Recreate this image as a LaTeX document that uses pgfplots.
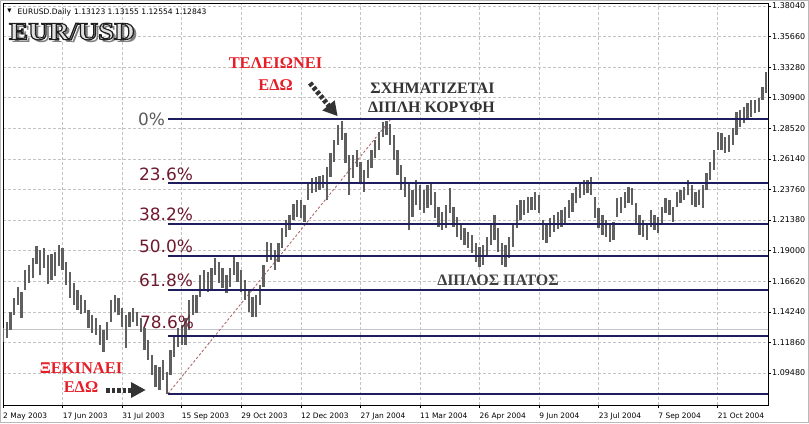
\documentclass[border=0pt]{standalone}
\usepackage{pgfplots}
\pgfplotsset{compat=1.18}
\usepackage{pgfplotstable}
\usepackage{fontspec}
\setmainfont{DejaVu Sans}
\newfontfamily\grserif{Liberation Serif}

\definecolor{barcol}{RGB}{95,95,95}
\definecolor{fibcol}{RGB}{30,30,95}
\definecolor{pctcol}{RGB}{110,25,45}
\definecolor{redtxt}{RGB}{230,30,40}
\definecolor{gridcol}{RGB}{195,195,195}
\definecolor{diagcol}{RGB}{175,105,105}

% EUR/USD, one bar per two trading days: day index, low, high
\pgfplotstableread{
d lo hi
0 1.1190 1.1299
2 1.1221 1.1346
4 1.1284 1.1424
6 1.1400 1.1533
8 1.1478 1.1618
10 1.1377 1.1579
12 1.1595 1.1750
14 1.1649 1.1789
16 1.1688 1.1844
18 1.1797 1.1937
20 1.1711 1.1906
22 1.1766 1.1922
24 1.1641 1.1867
26 1.1673 1.1875
28 1.1704 1.1890
30 1.1782 1.1945
32 1.1750 1.1922
34 1.1634 1.1813
36 1.1533 1.1735
38 1.1478 1.1649
40 1.1439 1.1595
42 1.1408 1.1556
44 1.1416 1.1517
46 1.1299 1.1439
48 1.1260 1.1400
50 1.1245 1.1377
52 1.1167 1.1322
54 1.1112 1.1284
56 1.1206 1.1346
58 1.1346 1.1517
60 1.1424 1.1556
62 1.1400 1.1533
64 1.1307 1.1455
66 1.1144 1.1400
68 1.1307 1.1424
70 1.1346 1.1455
72 1.1315 1.1424
74 1.1268 1.1377
76 1.1128 1.1299
78 1.1050 1.1206
80 1.0933 1.1089
82 1.0840 1.1011
84 1.0817 1.0996
86 1.0895 1.1050
88 1.0786 1.0957
90 1.0933 1.1128
92 1.1074 1.1245
94 1.1151 1.1299
96 1.1167 1.1322
98 1.1167 1.1377
100 1.1284 1.1517
102 1.1400 1.1556
104 1.1416 1.1556
106 1.1540 1.1711
108 1.1595 1.1750
110 1.1579 1.1735
112 1.1595 1.1766
114 1.1711 1.1844
116 1.1649 1.1813
118 1.1610 1.1766
120 1.1571 1.1711
122 1.1618 1.1766
124 1.1711 1.1852
126 1.1657 1.1813
128 1.1579 1.1750
130 1.1517 1.1673
132 1.1424 1.1595
134 1.1385 1.1540
136 1.1385 1.1556
138 1.1478 1.1634
140 1.1618 1.1789
142 1.1813 1.1968
144 1.1828 1.1960
146 1.1750 1.1906
148 1.1813 1.1960
150 1.1922 1.2077
152 1.2007 1.2139
154 1.2062 1.2178
156 1.2139 1.2264
158 1.2163 1.2295
160 1.2155 1.2295
162 1.2124 1.2256
164 1.2295 1.2435
166 1.2349 1.2466
168 1.2357 1.2474
170 1.2373 1.2482
172 1.2388 1.2489
174 1.2295 1.2552
176 1.2474 1.2661
178 1.2591 1.2762
180 1.2723 1.2878
182 1.2762 1.2910
184 1.2583 1.2816
186 1.2334 1.2645
188 1.2466 1.2645
190 1.2552 1.2684
192 1.2427 1.2591
194 1.2357 1.2528
196 1.2466 1.2606
198 1.2544 1.2684
200 1.2622 1.2762
202 1.2684 1.2824
204 1.2785 1.2902
206 1.2801 1.2910
208 1.2723 1.2886
210 1.2606 1.2801
212 1.2489 1.2684
214 1.2373 1.2567
216 1.2318 1.2474
218 1.2062 1.2427
220 1.2163 1.2373
222 1.2256 1.2451
224 1.2217 1.2412
226 1.2194 1.2373
228 1.2233 1.2412
230 1.2256 1.2435
232 1.2155 1.2357
234 1.2085 1.2241
236 1.2062 1.2202
238 1.2077 1.2256
240 1.2194 1.2388
242 1.2085 1.2241
244 1.2007 1.2163
246 1.1984 1.2116
248 1.1945 1.2077
250 1.1922 1.2046
252 1.1883 1.2023
254 1.1813 1.1960
256 1.1774 1.1929
258 1.1789 1.1945
260 1.1852 1.2007
262 1.1945 1.2100
264 1.1984 1.2178
266 1.1890 1.2077
268 1.1789 1.1960
270 1.1774 1.1945
272 1.1844 1.2007
274 1.1929 1.2100
276 1.2077 1.2256
278 1.2139 1.2295
280 1.2178 1.2295
282 1.2194 1.2318
284 1.2217 1.2318
286 1.2217 1.2357
288 1.2194 1.2334
290 1.1984 1.2139
292 1.1960 1.2116
294 1.2007 1.2155
296 1.2046 1.2178
298 1.2069 1.2202
300 1.2085 1.2217
302 1.2116 1.2241
304 1.2155 1.2295
306 1.2202 1.2349
308 1.2272 1.2396
310 1.2311 1.2435
312 1.2334 1.2451
314 1.2349 1.2451
316 1.2334 1.2474
318 1.2155 1.2318
320 1.2077 1.2233
322 1.2023 1.2178
324 1.2007 1.2139
326 1.1968 1.2116
328 1.1984 1.2124
330 1.2163 1.2311
332 1.2194 1.2318
334 1.2233 1.2357
336 1.2272 1.2396
338 1.2256 1.2388
340 1.2100 1.2272
342 1.2023 1.2178
344 1.2007 1.2139
346 1.1984 1.2116
348 1.2085 1.2217
350 1.2062 1.2178
352 1.2038 1.2163
354 1.2116 1.2241
356 1.2194 1.2311
358 1.2178 1.2295
360 1.2124 1.2241
362 1.2241 1.2357
364 1.2272 1.2373
366 1.2295 1.2396
368 1.2334 1.2451
370 1.2256 1.2412
372 1.2241 1.2357
374 1.2256 1.2373
376 1.2233 1.2412
378 1.2373 1.2505
380 1.2451 1.2591
382 1.2528 1.2684
384 1.2684 1.2824
386 1.2684 1.2816
388 1.2661 1.2785
390 1.2668 1.2801
392 1.2723 1.2855
394 1.2801 1.2980
396 1.2863 1.2995
398 1.2894 1.3019
400 1.2917 1.3050
402 1.2941 1.3073
404 1.2972 1.3073
406 1.2980 1.3089
408 1.3073 1.3174
410 1.3127 1.3291
}\eurusd

% outlined text: fill with the current colour, stroke in dark grey
\newcommand{\outlined}[1]{\special{pdf:literal direct 2 Tr 1.1 w 0.12 G}#1\special{pdf:literal direct 0 Tr}}

\begin{document}
\begin{tikzpicture}
\begin{axis}[
    at={(0,0)}, anchor=south west,
    width=765bp, height=402bp, scale only axis,
    xmin=0, xmax=411,
    ymin=1.06989, ymax=1.38273,
    axis line style={black, line width=0.8bp},
    xtick={0,32,...,384},
    xticklabels={2 May 2003, 17 Jun 2003, 31 Jul 2003, 15 Sep 2003, 29 Oct 2003,
        12 Dec 2003, 27 Jan 2004, 11 Mar 2004, 26 Apr 2004, 9 Jun 2004,
        23 Jul 2004, 7 Sep 2004, 21 Oct 2004},
    ytick={1.09480,1.11860,1.14240,1.16620,1.19000,1.21380,1.23760,
        1.26140,1.28520,1.30900,1.33280,1.35660,1.38040},
    yticklabels={1.09480,1.11860,1.14240,1.16620,1.19000,1.21380,1.23760,
        1.26140,1.28520,1.30900,1.33280,1.35660,1.38040},
    xtick pos=left, ytick pos=right,
    tick align=outside, major tick length=3bp,
    tick style={black, line width=0.6bp},
    xticklabel style={anchor=base west, inner sep=0pt, yshift=-10bp,
        font=\fontsize{7.5}{8}\selectfont},
    yticklabel style={anchor=west, inner sep=0pt, xshift=1bp,
        font=\fontsize{8}{9}\selectfont},
    grid=major,
    major grid style={gridcol, dash pattern=on 3bp off 2bp, line width=0.6bp},
]
% current bid line
\addplot[gray!45, line width=0.8bp] coordinates {(0,1.12843) (411,1.12843)};
% trend line from the low to the high
\addplot[diagcol, dash pattern=on 2.5bp off 2bp, line width=0.9bp]
    coordinates {(88.6,1.0786) (208.4,1.2925)};
% price bars, low to high
\addplot[barcol, line width=2.3bp, mark=none,
    quiver={u=0, v=\thisrow{hi}-\thisrow{lo}}]
    table[x=d, y=lo] {\eurusd};
% fibonacci levels
\addplot[fibcol, line width=2bp] coordinates {(88.6,1.2925) (411,1.2925)};
\addplot[fibcol, line width=2bp] coordinates {(88.6,1.2427) (411,1.2427)};
\addplot[fibcol, line width=2bp] coordinates {(88.6,1.2108) (411,1.2108)};
\addplot[fibcol, line width=2bp] coordinates {(88.6,1.1859) (411,1.1859)};
\addplot[fibcol, line width=2bp] coordinates {(88.6,1.1595) (411,1.1595)};
\addplot[fibcol, line width=2bp] coordinates {(88.6,1.1233) (411,1.1233)};
\addplot[fibcol, line width=2bp] coordinates {(88.6,1.0786) (411,1.0786)};
\end{axis}

% annotations, placed in picture pixels (origin top left)
\begin{scope}[x=1bp, y=-1bp, shift={(-3bp,405bp)}]
  \node[inner sep=0pt, font=\fontsize{5.5}{6}\selectfont] at (9.5,11.5) {▼};
  \node[anchor=base west, inner sep=0pt, font=\fontsize{7.6}{9}\selectfont]
      at (17.5,14.5) {EURUSD.Daily\hspace{3bp}1.13123 1.13155 1.12554 1.12843};

  % logo: shadow, then outlined light letters
  \node[font=\grserif\bfseries\fontsize{25}{26}\selectfont, text=black!50, xscale=1.15]
      at (75,34.5) {EUR/USD};
  \node[font=\grserif\bfseries\fontsize{25}{26}\selectfont, text=white!88!black, xscale=1.15]
      at (72,31.5) {\outlined{EUR/USD}};

  % texts
  \node[anchor=base, inner sep=0pt, font=\grserif\bfseries\fontsize{16.5}{18}\selectfont, text=redtxt]
      at (275.5,68) {ΤΕΛΕΙΩΝΕΙ};
  \node[anchor=base, inner sep=0pt, font=\grserif\bfseries\fontsize{16.5}{18}\selectfont, text=redtxt]
      at (275.5,90.5) {ΕΔΩ};
  \node[anchor=base, inner sep=0pt, font=\grserif\bfseries\fontsize{16}{18}\selectfont, text=black!80]
      at (432.5,93.5) {ΣΧΗΜΑΤΙΖΕΤΑΙ};
  \node[anchor=base, inner sep=0pt, font=\grserif\bfseries\fontsize{16}{18}\selectfont, text=black!80]
      at (431.5,112) {ΔΙΠΛΗ ΚΟΡΥΦΗ};
  \node[anchor=base, inner sep=0pt, font=\grserif\bfseries\fontsize{16}{18}\selectfont, text=black!75]
      at (498,285) {ΔΙΠΛΟΣ ΠΑΤΟΣ};
  \node[anchor=base, inner sep=0pt, font=\grserif\bfseries\fontsize{16.5}{18}\selectfont, text=redtxt]
      at (81,373) {ΞΕΚΙΝΑΕΙ};
  \node[anchor=base, inner sep=0pt, font=\grserif\bfseries\fontsize{16.5}{18}\selectfont, text=redtxt]
      at (81,392.5) {ΕΔΩ};

  % level labels
  \node[anchor=base west, inner sep=0pt, font=\fontsize{17}{18}\selectfont, text=black!65] at (138,125) {0\%};
  \node[anchor=base west, inner sep=0pt, font=\fontsize{17}{18}\selectfont, text=pctcol] at (139,180) {23.6\%};
  \node[anchor=base west, inner sep=0pt, font=\fontsize{17}{18}\selectfont, text=pctcol] at (139,220.5) {38.2\%};
  \node[anchor=base west, inner sep=0pt, font=\fontsize{17}{18}\selectfont, text=pctcol] at (139,252.5) {50.0\%};
  \node[anchor=base west, inner sep=0pt, font=\fontsize{17}{18}\selectfont, text=pctcol] at (139,286.5) {61.8\%};
  \node[anchor=base west, inner sep=0pt, font=\fontsize{17}{18}\selectfont, text=pctcol] at (140,328.5) {78.6\%};

  % arrows
  \draw[black!80, line width=5bp, dash pattern=on 3.5bp off 2bp] (106,390) -- (132,390);
  \fill[black!80] (131,382) -- (145.5,390) -- (131,398) -- cycle;
  \draw[black!80, line width=5bp, dash pattern=on 3.5bp off 2bp] (310,83) -- (329,106);
  \fill[black!80] (334.7,100.3) -- (337.5,116) -- (322.3,110.5) -- cycle;

  % outer frame and page size
  \draw[gray!55, line width=1.2bp] (0.6,0.6) rectangle (808.4,422.4);
  \pgfresetboundingbox
  \path[use as bounding box] (0,0) rectangle (809,423);
\end{scope}
\end{tikzpicture}
\end{document}
